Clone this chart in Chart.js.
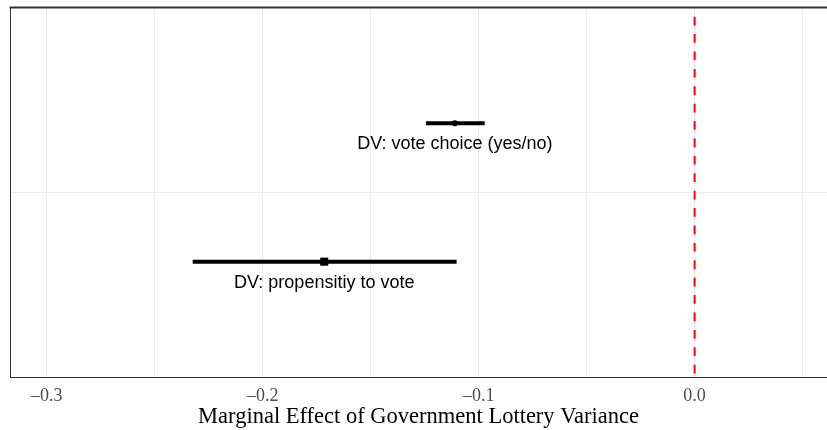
<!DOCTYPE html>
<html>
<head>
<meta charset="utf-8">
<script src="https://cdn.jsdelivr.net/npm/chart.js@4.4.1/dist/chart.umd.min.js"></script>
<style>
  html, body { margin: 0; padding: 0; background: #ffffff; }
  #wrap { width: 827px; height: 430px; }
</style>
</head>
<body>
<div id="wrap"><canvas id="c" width="827" height="430"></canvas></div>
<script>
// Marginal effects with 95% intervals, one row per dependent variable
const models    = ['DV: vote choice (yes/no)', 'DV: propensitiy to vote'];
const estimates = [-0.111, -0.1715];
const lowerCI   = [-0.1244, -0.2324];
const upperCI   = [-0.0972, -0.1102];
const rowPos    = [0.6875, 0.3125];           // dodged position around the single row
const markStyle = ['circle', 'rect'];
const markSize  = [3, 5.7];

const xTicks     = [-0.3, -0.25, -0.2, -0.15, -0.1, -0.05, 0.0, 0.05];
const xTickShown = [-0.3, -0.2, -0.1, 0.0];
const xRange     = [-0.317, 0.0613];
const refLine    = 0;
const axisTitle  = 'Marginal Effect of Government Lottery Variance';

const datasets = [];
// vertical reference line at zero
datasets.push({
  type: 'line',
  data: [{x: refLine, y: 1}, {x: refLine, y: 0}],
  borderColor: '#ff0000',
  borderWidth: 2,
  borderDash: [8.7, 8.7],
  borderDashOffset: 8.7,
  pointRadius: 0,
  order: 3
});
// interval bars
models.forEach((m, i) => {
  datasets.push({
    type: 'line',
    data: [{x: lowerCI[i], y: rowPos[i]}, {x: upperCI[i], y: rowPos[i]}],
    borderColor: '#000000',
    borderWidth: 4,
    borderCapStyle: 'butt',
    pointRadius: 0,
    order: 2
  });
});
// point estimates
models.forEach((m, i) => {
  datasets.push({
    type: 'scatter',
    label: m,
    data: [{x: estimates[i], y: rowPos[i]}],
    pointStyle: markStyle[i],
    pointRadius: markSize[i],
    pointBackgroundColor: '#000000',
    pointBorderColor: '#000000',
    pointBorderWidth: 0,
    order: 1
  });
});

// labels written beneath each estimate
const labelPlugin = {
  id: 'rowLabels',
  afterDatasetsDraw(chart) {
    const ctx = chart.ctx;
    const xs = chart.scales.x, ys = chart.scales.y;
    ctx.save();
    ctx.font = '18px "Liberation Sans", Arial, sans-serif';
    ctx.fillStyle = '#000000';
    ctx.textAlign = 'center';
    ctx.textBaseline = 'middle';
    models.forEach((m, i) => {
      ctx.fillText(m, xs.getPixelForValue(estimates[i]), ys.getPixelForValue(rowPos[i]) + 21);
    });
    ctx.restore();
  }
};

// top frame line
const framePlugin = {
  id: 'frameTop',
  afterDraw(chart) {
    const a = chart.chartArea, ctx = chart.ctx;
    ctx.save();
    ctx.strokeStyle = '#333333';
    ctx.lineWidth = 2;
    ctx.beginPath();
    ctx.moveTo(a.left - 0.5, a.top - 0.5);
    ctx.lineTo(a.right, a.top - 0.5);
    ctx.stroke();
    ctx.restore();
  }
};

new Chart(document.getElementById('c'), {
  data: { datasets },
  plugins: [labelPlugin, framePlugin],
  options: {
    responsive: false,
    animation: false,
    layout: { autoPadding: false, padding: { left: 10, top: 8, right: 0, bottom: 0 } },
    plugins: { legend: { display: false }, tooltip: { enabled: false } },
    scales: {
      x: {
        type: 'linear',
        min: xRange[0],
        max: xRange[1],
        afterBuildTicks(s) { s.ticks = xTicks.map(v => ({value: v})); },
        afterFit(s) { s.height = 53; s.paddingLeft = 0; s.paddingRight = 0; },
        grid: { color: '#ebebeb', lineWidth: 1, drawTicks: false },
        border: { display: true, color: '#333333', width: 1 },
        ticks: {
          padding: 8,
          color: '#4d4d4d',
          font: { family: '"Liberation Serif", "Times New Roman", serif', size: 18 },
          maxRotation: 0,
          autoSkip: false,
          callback(v) {
            if (!xTickShown.some(t => Math.abs(t - v) < 1e-9)) return '';
            return (v < 0 ? '\u2013' : '') + Math.abs(v).toFixed(1);
          }
        },
        title: {
          display: true,
          text: axisTitle,
          color: '#000000',
          font: { family: '"Liberation Serif", "Times New Roman", serif', size: 22.5 },
          padding: { top: 0, bottom: -1 }
        }
      },
      y: {
        type: 'linear',
        min: 0,
        max: 1,
        afterBuildTicks(s) { s.ticks = [{value: 0.5}]; },
        afterFit(s) { s.width = 0; },
        grid: { color: '#ebebeb', lineWidth: 1, drawTicks: false },
        border: { display: true, color: '#333333', width: 1 },
        ticks: { display: false }
      }
    }
  }
});
</script>
</body>
</html>
